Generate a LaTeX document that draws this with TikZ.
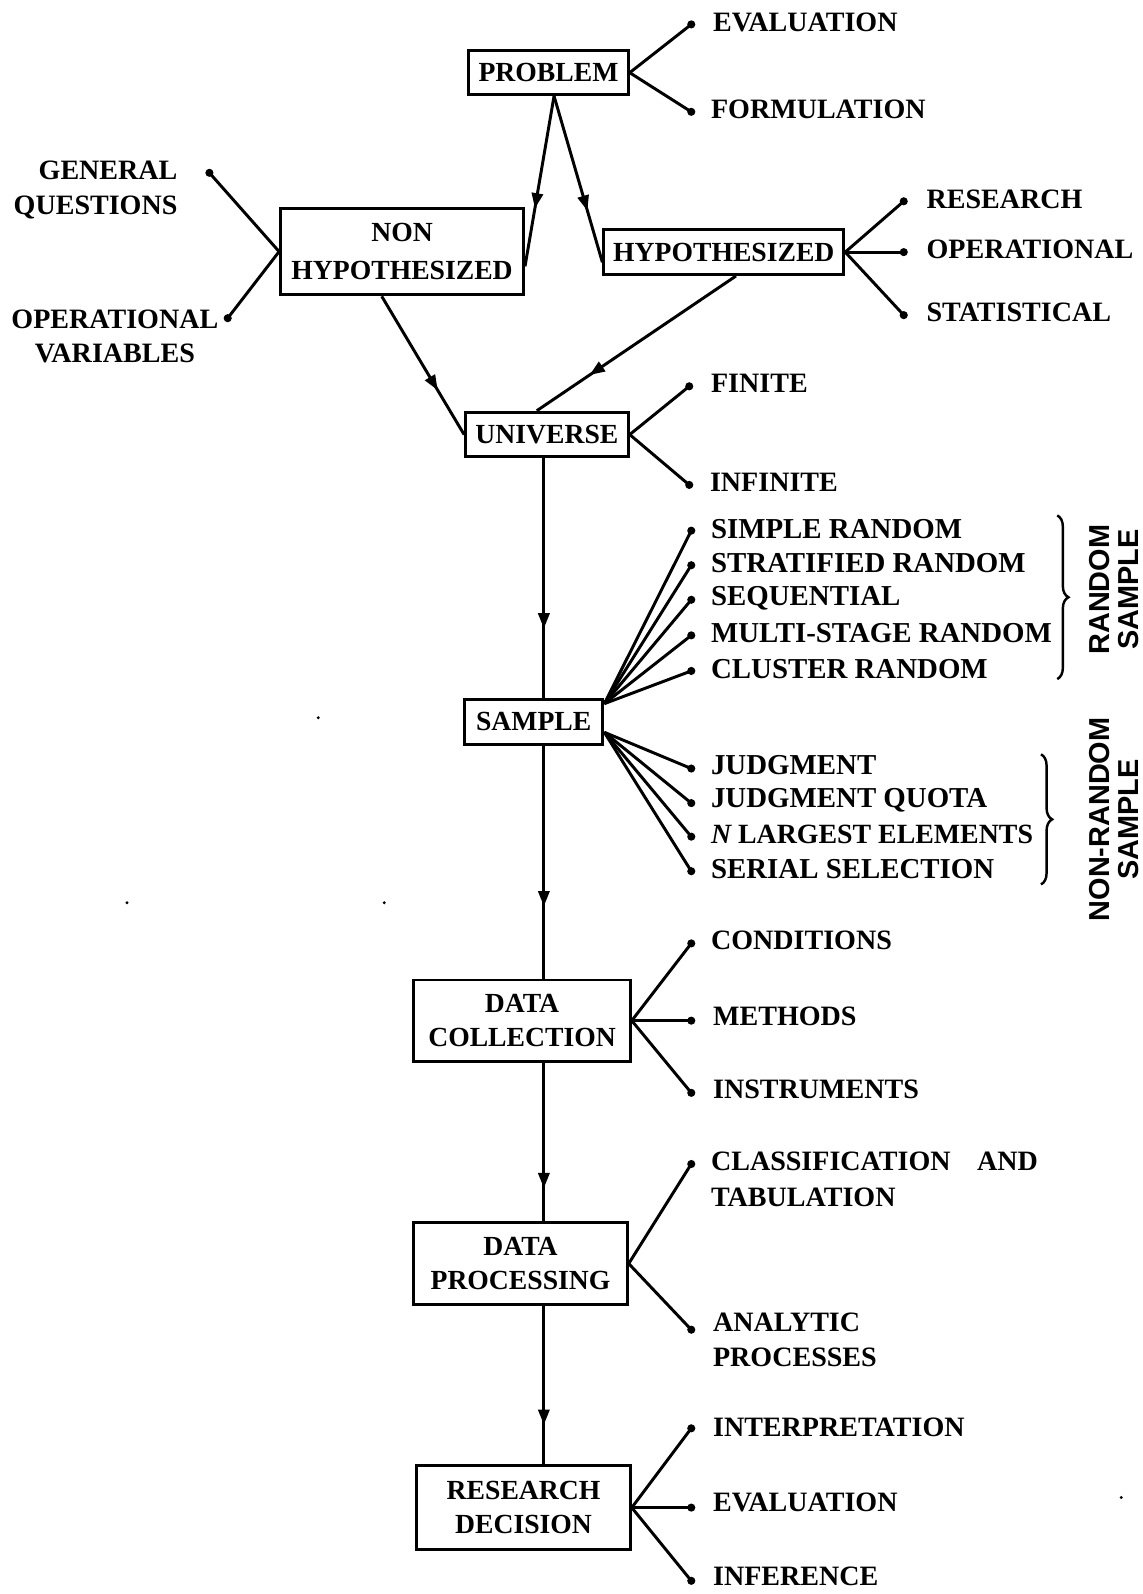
\documentclass[tikz,border=0pt]{standalone}
\usepackage{fontspec}
\setmainfont{Liberation Serif}
\newfontfamily\rotfont{Liberation Sans}
\usetikzlibrary{arrows.meta,decorations.markings,decorations.pathreplacing,calc}
\begin{document}
\begin{tikzpicture}[x=0.5pt,y=-0.5pt,line width=1.45pt,
  box/.style={draw,rectangle,inner sep=0pt,align=center,font=\fontsize{13.6}{17}\selectfont\bfseries},
  lbl/.style={inner sep=0pt,anchor=west,align=left,font=\fontsize{13.8}{17.5}\selectfont\bfseries},
  slbl/.style={inner sep=0pt,anchor=west,align=left,font=\fontsize{14.2}{17.5}\selectfont\bfseries},
  side/.style={inner sep=0pt,font=\fontsize{13.8}{17}\selectfont\bfseries},
  rot/.style={inner sep=0pt,align=center,rotate=90,font=\rotfont\fontsize{14.2}{14}\selectfont\bfseries},
  midarrow/.style={postaction={decorate},decoration={markings,mark=at position #1 with {\arrow{Triangle[length=7.5pt,width=5.5pt]}}}},
  dotc/.style={fill=black},
  bracel/.style={decorate,decoration={brace,amplitude=5.5pt},line width=1.2pt}]
\useasboundingbox (0,0) rectangle (1124,1568);
% boxes
\node[box,minimum width=78.5pt,minimum height=21.5pt] (problem) at (539.5,71.5) {PROBLEM};
\node[box,minimum width=119.5pt,minimum height=42.5pt] (nonhyp) at (395.5,247.5) {NON\\[1.5pt]HYPOTHESIZED};
\node[box,minimum width=118pt,minimum height=22pt] (hyp) at (712,248) {HYPOTHESIZED};
\node[box,minimum width=80pt,minimum height=22pt] (universe) at (538,427.5) {UNIVERSE};
\node[box,minimum width=68pt,minimum height=22pt] (sample) at (525,710) {SAMPLE};
\node[box,minimum width=106.5pt,minimum height=40pt] (datacoll) at (513.5,1004) {DATA\\COLLECTION};
\node[box,minimum width=105pt,minimum height=40pt] (dataproc) at (512,1243) {DATA\\PROCESSING};
\node[box,minimum width=105pt,minimum height=41pt] (resdec) at (515,1483) {RESEARCH\\DECISION};
\coordinate (spine) at (535,0);
% main connectors
\draw[midarrow=0.66] ($(problem.south)+(5.5,0)$) -- ($(nonhyp.east)+(0,14.5)$);
\draw[midarrow=0.69] ($(problem.south)+(5.5,0)$) -- ($(hyp.west)+(0,10)$);
\draw[midarrow=0.68] ($(nonhyp.south)+(-20,0)$) -- (universe.west);
\draw[midarrow=0.735] ($(hyp.south)+(12,0)$) -- ($(universe.north)+(-10,0)$);
\draw[midarrow=0.71] (universe.south -| spine) -- (sample.north -| spine);
\draw[midarrow=0.69] (sample.south -| spine) -- (datacoll.north -| spine);
\draw[midarrow=0.79] (datacoll.south -| spine) -- (dataproc.north -| spine);
\draw[midarrow=0.75] (dataproc.south -| spine) -- (resdec.north -| spine);
% dots
\coordinate (dEval) at (680,24);
\coordinate (dForm) at (680,110);
\coordinate (dGen) at (206,170);
\coordinate (dOper) at (224,313);
\coordinate (dRes) at (889,198);
\coordinate (dOp) at (889,248);
\coordinate (dStat) at (889,310);
\coordinate (dFin) at (678,380);
\coordinate (dInf) at (678,477);
\coordinate (dS1) at (680,522);
\coordinate (dS2) at (680,556);
\coordinate (dS3) at (680,590);
\coordinate (dS4) at (680,625);
\coordinate (dS5) at (680,660);
\coordinate (dN1) at (680,756);
\coordinate (dN2) at (680,790);
\coordinate (dN3) at (680,823);
\coordinate (dN4) at (680,857);
\coordinate (dCond) at (680,928);
\coordinate (dMeth) at (680,1004);
\coordinate (dInstr) at (680,1075);
\coordinate (dClass) at (680,1145);
\coordinate (dAnal) at (680,1308);
\coordinate (dInterp) at (680,1405);
\coordinate (dEvl) at (680,1483);
\coordinate (dInfer) at (680,1555);
\coordinate (su) at ($(sample.north east)!0.12!(sample.south east)$);
\coordinate (sl) at ($(sample.north east)!0.72!(sample.south east)$);
% branches
\foreach \d in {dEval,dForm} \draw (problem.east) -- (\d);
\foreach \d in {dGen,dOper} \draw (nonhyp.west) -- (\d);
\foreach \d in {dRes,dOp,dStat} \draw (hyp.east) -- (\d);
\foreach \d in {dFin,dInf} \draw (universe.east) -- (\d);
\foreach \d in {dS1,dS2,dS3,dS4,dS5} \draw (su) -- (\d);
\foreach \d in {dN1,dN2,dN3,dN4} \draw (sl) -- (\d);
\foreach \d in {dCond,dMeth,dInstr} \draw (datacoll.east) -- (\d);
\foreach \d in {dClass,dAnal} \draw (dataproc.east) -- (\d);
\foreach \d in {dInterp,dEvl,dInfer} \draw (resdec.east) -- (\d);
\foreach \d in {dEval,dForm,dGen,dOper,dRes,dOp,dStat,dFin,dInf,dS1,dS2,dS3,dS4,dS5,dN1,dN2,dN3,dN4,dCond,dMeth,dInstr,dClass,dAnal,dInterp,dEvl,dInfer}
  \fill[dotc] (\d) circle (2pt);
% labels
\node[lbl] (tEval) at (700,22) {EVALUATION};
\node[lbl] (tForm) at (698,108) {FORMULATION};
\node[side,align=right,anchor=east] (tGen) at (176,187) {GENERAL\\QUESTIONS};
\node[side,align=center] (tOper) at (113,331) {OPERATIONAL\\VARIABLES};
\node[lbl] (tRes) at (910,196) {RESEARCH};
\node[lbl] (tOp) at (910,245) {OPERATIONAL};
\node[lbl] (tStat) at (910,307) {STATISTICAL};
\node[lbl] (tFin) at (698,377) {FINITE};
\node[lbl] (tInf) at (697,474) {INFINITE};
\node[slbl] (tS1) at (698,520) {SIMPLE RANDOM};
\node[slbl] (tS2) at (698,554) {STRATIFIED RANDOM};
\node[slbl] (tS3) at (698,589) {SEQUENTIAL};
\node[slbl] (tS4) at (698,623) {MULTI-STAGE RANDOM};
\node[slbl] (tS5) at (698,658) {CLUSTER RANDOM};
\node[slbl] (tN1) at (698,753) {JUDGMENT};
\node[slbl] (tN2) at (698,787) {JUDGMENT QUOTA};
\node[slbl,font=\fontsize{13.7}{17.5}\selectfont\bfseries] (tN3) at (698,821) {{\itshape N} LARGEST ELEMENTS};
\node[slbl] (tN4) at (698,855) {SERIAL SELECTION};
\node[lbl] (tCond) at (698,925) {CONDITIONS};
\node[lbl] (tMeth) at (700,1000) {METHODS};
\node[lbl] (tInstr) at (700,1072) {INSTRUMENTS};
\node[lbl] (tClass) at (698,1160) {CLASSIFICATION\hspace{13pt}AND\\TABULATION};
\node[lbl] (tAnal) at (700,1318) {ANALYTIC\\PROCESSES};
\node[lbl] (tInterp) at (700,1404) {INTERPRETATION};
\node[lbl] (tEvl) at (700,1478) {EVALUATION};
\node[lbl] (tInfer) at (700,1551) {INFERENCE};
% braces and group labels
\draw[bracel] (1040,507) -- (1040,668);
\draw[bracel] (1024,742) -- (1024,870);
\node[rot] (gRand) at (1096,580) {RANDOM\\SAMPLE};
\node[rot] (gNon) at (1096,806) {NON-RANDOM\\SAMPLE};
% specks
\fill (313,706) circle (0.8pt);
\fill (125,888) circle (0.8pt);
\fill (378,888) circle (0.8pt);
\fill (1103,1473) circle (0.8pt);
\end{tikzpicture}
\end{document}
